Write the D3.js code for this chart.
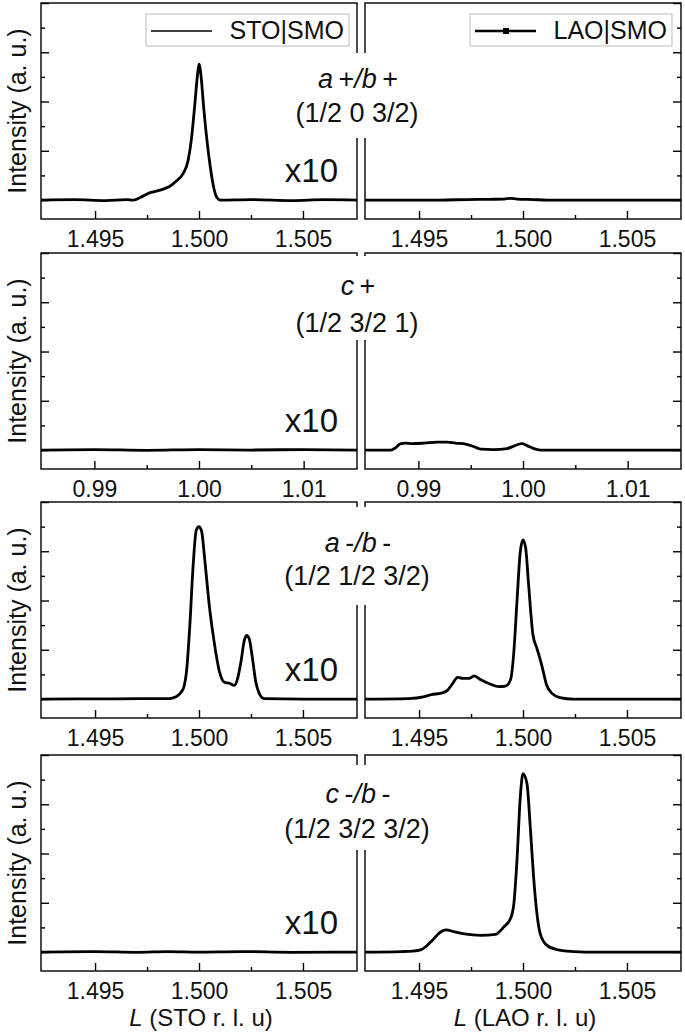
<!DOCTYPE html>
<html><head><meta charset="utf-8">
<script src="https://cdn.jsdelivr.net/npm/d3@7"></script>
<style>body{margin:0;background:#fff} svg{display:block}</style>
</head><body>
<svg id="c" width="685" height="1034"></svg>
<script>
// ---------------- data ----------------
const sampleNames = ["STO|SMO", "LAO|SMO"];
const reflections = ["a+/b+", "c+", "a-/b-", "c-/b-"];
const hklLabels = ["(1/2 0 3/2)", "(1/2 3/2 1)", "(1/2 1/2 3/2)", "(1/2 3/2 3/2)"];
const xTicksHalf = [1.495, 1.500, 1.505];
const xMinorHalf = [1.4975, 1.5025];
const xTicksOne = [0.99, 1.00, 1.01];
const xMinorOne = [0.995, 1.005];
const xTickFormats = [".3f", ".2f", ".3f", ".3f"];
const xTitles = ["(STO r. l. u)", "(LAO r. l. u)"];
const scaleNote = "x10";

const sto_apbp = [[1.4924,0],[1.4940,0.01],[1.4955,-0.01],[1.4965,0.01],[1.49686,0.0],[1.49717,0.05],[1.49765,0.15],[1.49813,0.2],[1.4986,0.28],[1.49892,0.39],[1.49924,0.54],[1.49948,0.81],[1.49963,1.22],[1.49979,1.9],[1.49992,2.51],[1.5,2.76],[1.5001,2.51],[1.50022,1.9],[1.50038,1.22],[1.50054,0.68],[1.5007,0.27],[1.50086,0.05],[1.50102,0],[1.5025,0.01],[1.5045,-0.01],[1.5060,0.01],[1.5076,0]];
const lao_apbp = [[1.4924,0],[1.4960,0],[1.49733,0.01],[1.49844,0.015],[1.49908,0.02],[1.4994,0.035],[1.49971,0.02],[1.50051,0.01],[1.50114,0],[1.5076,0]];
const sto_cp = [[0.9849,0],[0.9900,0.01],[0.9950,-0.005],[1.0000,0.01],[1.0050,0],[1.0100,0.01],[1.0151,0]];
const lao_cp = [[0.9849,0],[0.98737,0],[0.98784,0.05],[0.98832,0.13],[0.98879,0.14],[0.98943,0.13],[0.99054,0.14],[0.99181,0.16],[0.99276,0.16],[0.99356,0.14],[0.99451,0.12],[0.9953,0.07],[0.99594,0.02],[0.9972,0.01],[0.99848,0.03],[0.99911,0.08],[0.9999,0.13],[1.00038,0.09],[1.00102,0.03],[1.00165,0],[1.0151,0]];
const sto_ambm = [[1.4924,0],[1.4960,0.005],[1.4986,0.01],[1.49892,0.05],[1.49916,0.15],[1.49929,0.27],[1.4994,0.56],[1.49956,1.5],[1.49971,2.66],[1.49987,3.43],[1.5,3.5],[1.50013,3.4],[1.50027,2.86],[1.50051,1.84],[1.50075,1.1],[1.50098,0.56],[1.50122,0.34],[1.50146,0.32],[1.5017,0.28],[1.50186,0.42],[1.50202,0.76],[1.50217,1.17],[1.50229,1.29],[1.50241,1.23],[1.50257,0.83],[1.50273,0.35],[1.50289,0.12],[1.50313,0.01],[1.5050,0],[1.5076,0]];
const lao_ambm = [[1.4924,0],[1.49448,0.01],[1.49527,0.05],[1.49559,0.09],[1.49606,0.12],[1.49638,0.18],[1.49662,0.32],[1.49686,0.44],[1.4971,0.42],[1.49741,0.42],[1.49765,0.47],[1.49797,0.39],[1.49844,0.3],[1.49884,0.25],[1.49916,0.26],[1.4994,0.39],[1.49956,0.96],[1.49971,1.98],[1.49987,2.99],[1.5,3.23],[1.50013,3.06],[1.50027,2.32],[1.50048,1.3],[1.50067,1.03],[1.5009,0.69],[1.50114,0.28],[1.50138,0.12],[1.50178,0.03],[1.50241,0],[1.5076,0]];
const sto_cmbm = [[1.4924,0],[1.4950,0.01],[1.4970,-0.005],[1.4985,0.01],[1.5000,0],[1.5020,0.01],[1.5045,-0.005],[1.5076,0]];
const lao_cmbm = [[1.4924,0],[1.49416,0.01],[1.49471,0.02],[1.49511,0.05],[1.49535,0.12],[1.49567,0.25],[1.49598,0.39],[1.4963,0.45],[1.4967,0.41],[1.49717,0.37],[1.49797,0.34],[1.49868,0.36],[1.49908,0.51],[1.4994,0.68],[1.49956,0.98],[1.49971,1.86],[1.49987,3.15],[1.5,3.62],[1.50019,3.42],[1.50035,2.54],[1.50051,1.52],[1.50067,0.78],[1.50083,0.37],[1.50114,0.14],[1.50162,0.05],[1.50241,0.01],[1.5030,0],[1.5076,0]];

const stoSeries = [sto_apbp, sto_cp, sto_ambm, sto_cmbm];
const laoSeries = [lao_apbp, lao_cp, lao_ambm, lao_cmbm];
const xDomains = [[1.4924,1.5076],[0.9849,1.0151],[1.4924,1.5076],[1.4924,1.5076]];
const xMajor = [xTicksHalf, xTicksOne, xTicksHalf, xTicksHalf];
const xMinor = [xMinorHalf, xMinorOne, xMinorHalf, xMinorHalf];
const yTickValues = [0,0.5,1,1.5,2,2.5,3,3.5,4];

// ---------------- layout ----------------
const colX = [[41,357],[365,681]];
const panelTops = [3, 253, 502, 755];
const panelH = 216;
const yDomain = [-0.385, 4.0];
// per panel: [line1 baseline, line2 baseline, gap top, gap bottom] relative to panel top
const annot = [[85,119,50,135],[42,79,3,87],[50,83,5,103],[48,83,10,95]];
const FONT = "Liberation Sans, Arial, Helvetica, sans-serif";

const svg = d3.select("#c");
svg.append("rect").attr("width",685).attr("height",1034).attr("fill","#fff");

function drawReflection(textSel, name){
  for (const ch of name){
    if (ch === "+" || ch === "-") textSel.append("tspan").attr("font-style","normal").text("\u2009" + ch);
    else textSel.append("tspan").attr("font-style","italic").text(ch);
  }
}

reflections.forEach((refl, p) => {
  const top = panelTops[p], bottom = top + panelH;
  const y = d3.scaleLinear().domain(yDomain).range([bottom, top]);
  const series = [stoSeries[p], laoSeries[p]];
  series.forEach((data, c) => {
    const [x0, x1] = colX[c];
    const x = d3.scaleLinear().domain(xDomains[p]).range([x0, x1]);
    const g = svg.append("g");
    const clipId = `clip${p}_${c}`;
    g.append("clipPath").attr("id", clipId).append("rect")
      .attr("x", x0).attr("y", top).attr("width", x1-x0).attr("height", panelH);
    const line = d3.line().x(d => x(d[0])).y(d => y(d[1])).curve(d3.curveMonotoneX);
    g.append("path").datum(data).attr("clip-path", `url(#${clipId})`)
      .attr("d", line).attr("fill","none").attr("stroke","#000")
      .attr("stroke-width", 2.8).attr("stroke-linejoin","round");

    g.append("rect").attr("x", x0).attr("y", top).attr("width", x1-x0).attr("height", panelH)
      .attr("fill","none").attr("stroke","#000").attr("stroke-width",1.4);

    const axB = d3.axisBottom(x).tickValues(xMajor[p]).tickSizeInner(-8).tickSizeOuter(0)
      .tickPadding(12).tickFormat(d3.format(xTickFormats[p]));
    const gb = g.append("g").attr("transform", `translate(0,${bottom})`).call(axB);
    gb.select(".domain").remove();
    gb.selectAll("line").attr("stroke","#000").attr("stroke-width",1.4);
    gb.selectAll("text").attr("font-family", FONT).attr("font-size", 23).attr("fill","#111")
      .attr("dy", "0.71em");
    const gbm = g.append("g").attr("transform", `translate(0,${bottom})`)
      .call(d3.axisBottom(x).tickValues(xMinor[p]).tickSizeInner(-4).tickSizeOuter(0).tickFormat(""));
    gbm.select(".domain").remove();
    gbm.selectAll("line").attr("stroke","#000").attr("stroke-width",1.4);

    const majorY = yTickValues.filter(v => Number.isInteger(v));
    const minorY = yTickValues.filter(v => !Number.isInteger(v));
    [[majorY, 8],[minorY, 4]].forEach(([vals, len]) => {
      const ax = c === 0 ? d3.axisLeft(y) : d3.axisRight(y);
      const ga = g.append("g").attr("transform", `translate(${c===0 ? x0 : x1},0)`)
        .call(ax.tickValues(vals).tickSizeInner(-len).tickSizeOuter(0).tickFormat(""));
      ga.select(".domain").remove();
      ga.selectAll("line").attr("stroke","#000").attr("stroke-width",1.4);
    });

    if (c === 0) {
      svg.append("text").attr("transform", `translate(26,${(top+bottom)/2}) rotate(-90)`)
        .attr("text-anchor","middle").attr("font-family", FONT).attr("font-size", 25)
        .attr("fill","#111").text("Intensity (a. u.)");
      svg.append("text").attr("x", 338).attr("y", bottom - 37).attr("text-anchor","end")
        .attr("font-family", FONT).attr("font-size", 33).attr("fill","#111").text(scaleNote);
    }
    if (p === reflections.length - 1) {
      const t = svg.append("text").attr("x", (x0+x1)/2 + 2).attr("y", bottom + 55)
        .attr("text-anchor","middle").attr("font-family", FONT).attr("font-size", 24).attr("fill","#111");
      t.append("tspan").attr("font-style","italic").text("L");
      t.append("tspan").text(" " + xTitles[c]);
    }
  });

  const [l1, l2, gt, gbt] = annot[p];
  svg.append("rect").attr("x", 345).attr("y", top + gt).attr("width", 32).attr("height", gbt - gt).attr("fill","#fff");
  const t1 = svg.append("text").attr("x", 358).attr("y", top + l1).attr("text-anchor","middle")
    .attr("font-family", FONT).attr("font-size", 27).attr("fill","#111");
  drawReflection(t1, refl);
  svg.append("text").attr("x", 357).attr("y", top + l2).attr("text-anchor","middle")
    .attr("font-family", FONT).attr("font-size", 27).attr("fill","#111").text(hklLabels[p]);
});

const legendBoxes = [[146, 349], [470, 672]];
sampleNames.forEach((name, c) => {
  const [bx0, bx1] = legendBoxes[c];
  const g = svg.append("g");
  g.append("rect").attr("x", bx0).attr("y", 14).attr("width", bx1-bx0).attr("height", 32)
    .attr("fill","#fff").attr("stroke","#bbb").attr("stroke-width",1);
  g.append("line").attr("x1", bx0+5).attr("x2", bx0+66).attr("y1", 31).attr("y2", 31)
    .attr("stroke","#000").attr("stroke-width", c === 0 ? 1.5 : 2.5);
  if (c === 1) {
    g.append("rect").attr("x", bx0+33).attr("y", 28).attr("width", 6).attr("height", 6).attr("fill","#000");
  }
  g.append("text").attr("x", bx1 - 5).attr("y", 39).attr("text-anchor","end")
    .attr("font-family", FONT).attr("font-size", 25).attr("fill","#111").text(name);
});
</script>
</body></html>
